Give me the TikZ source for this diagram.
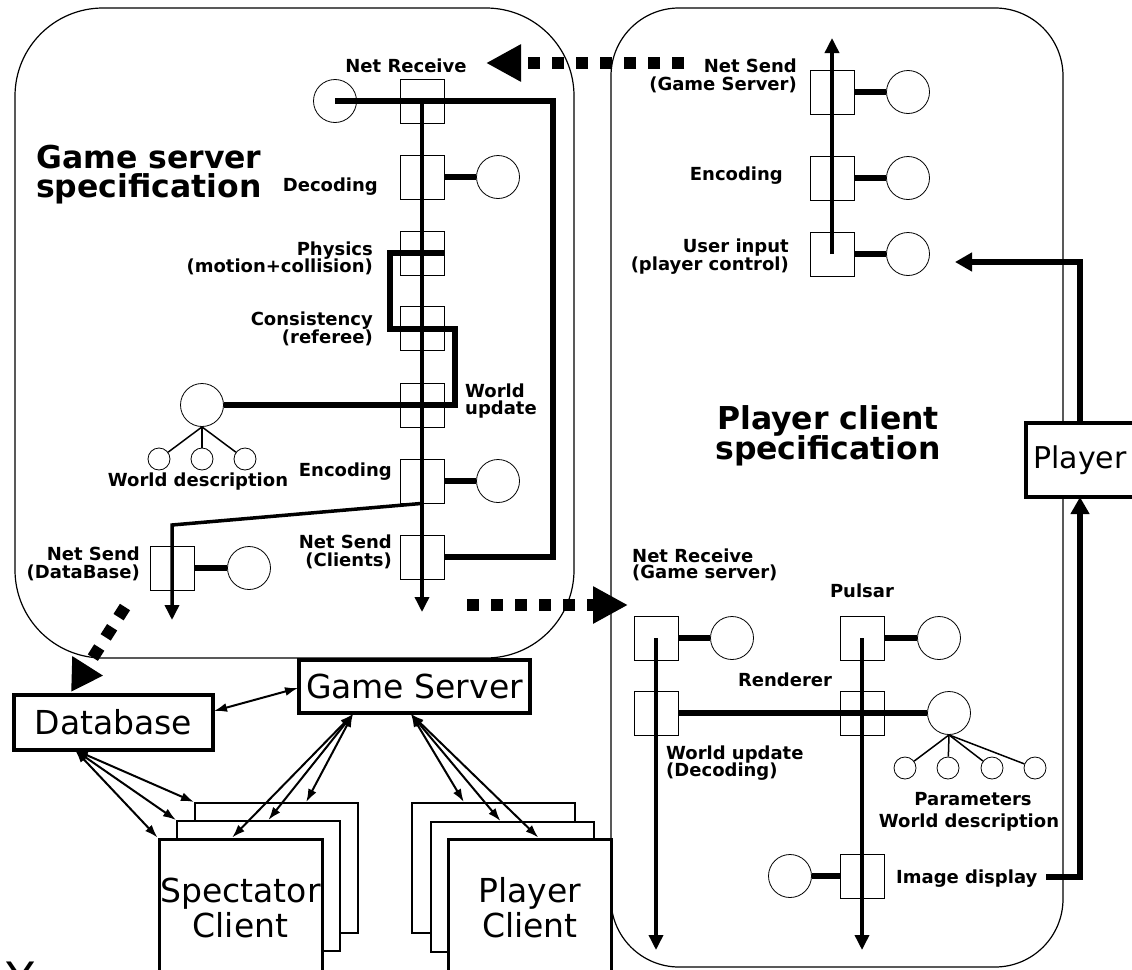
\documentclass[tikz,border=0pt]{standalone}
\usepackage{fontspec}
\setmainfont{DejaVu Sans}
\usetikzlibrary{arrows.meta,calc}

\tikzset{
  sq/.style={draw, line width=0.8pt, minimum width=44pt, minimum height=44pt, inner sep=0pt},
  ci/.style={draw, circle, line width=0.8pt, minimum size=43pt, inner sep=0pt},
  sci/.style={draw, circle, line width=0.8pt, minimum size=22pt, inner sep=0pt},
  link/.style={line width=6.5pt},
  tree/.style={line width=1.5pt},
  flow/.style={line width=3.5pt, -{Triangle[length=15pt,width=14pt]}},
  fat/.style={line width=6.5pt, -{Triangle[length=17pt,width=18pt]}},
  sqdash/.style={line width=12pt, dash pattern=on 12pt off 12pt, -{Triangle[length=35pt,width=35pt]}},
  lab/.style={font=\bfseries\fontsize{18pt}{18pt}\selectfont, inner sep=0pt},
  ttl/.style={font=\bfseries\fontsize{31.5pt}{30pt}\selectfont, inner sep=0pt},
  bx/.style={draw, line width=3.5pt, inner sep=0pt, fill=white, font=\fontsize{33pt}{35pt}\selectfont},
  sheet/.style={draw, line width=2pt, fill=white, minimum width=163pt, minimum height=130pt, inner sep=0pt},
  frontsheet/.style={draw, line width=3pt, fill=white, minimum width=163pt, minimum height=136pt, inner sep=0pt},
  bigtxt/.style={font=\fontsize{33pt}{35pt}\selectfont, inner sep=0pt},
  dbl/.style={line width=2pt, {Latex[length=13pt,width=9pt]}-{Latex[length=13pt,width=9pt]}},
  panel/.style={line width=1.2pt},
}

\begin{document}
\begin{tikzpicture}[x=1pt,y=-1pt]
\useasboundingbox (0,0) rectangle (1132,969);

% ---------------- the two specification panels ----------------
\draw[panel, rounded corners=88pt] (15,8) rectangle (574,658);
\draw[panel, rounded corners=68pt] (611,8) rectangle (1063,967);

% ---------------- game server pipeline ----------------
\node[ttl, anchor=base west] (gsT1) at (36,168) {Game server};
\node[ttl, anchor=base west] (gsT2) at (36,197) {specification};

\node[sq] (nr) at (422,101) {};
\node[ci] (nrc) at (335,101) {};
\node[sq] (dec) at (422,177) {};
\node[ci] (decc) at (498,177) {};
\node[sq] (phy) at (422,253) {};
\node[sq] (con) at (422,328) {};
\node[sq] (wup) at (422,405) {};
\node[sq] (enc) at (422,481) {};
\node[ci] (encc) at (498,481) {};
\node[sq] (nsc) at (422,557) {};
\node[ci] (wdc) at (202,405) {};
\node[sci] (wd1) at (159,459) {};
\node[sci] (wd2) at (202,459) {};
\node[sci] (wd3) at (245,459) {};
\node[sq] (nsd) at (172,568) {};
\node[ci] (nsdc) at (249,568) {};

\node[lab, anchor=base] (lNR) at (406,72) {Net Receive};
\node[lab, anchor=base east] (lDec) at (378,191) {Decoding};
\node[lab, anchor=base east] (lPh1) at (373,255) {Physics};
\node[lab, anchor=base east] (lPh2) at (373,272) {(motion+collision)};
\node[lab, anchor=base east] (lCo1) at (373,325) {Consistency};
\node[lab, anchor=base east] (lCo2) at (373,343) {(referee)};
\node[lab, anchor=base west] (lWu1) at (465,397) {World};
\node[lab, anchor=base west] (lWu2) at (465,414) {update};
\node[lab, anchor=base] (lWd) at (198,486) {World description};
\node[lab, anchor=base east] (lEnc) at (392,476) {Encoding};
\node[lab, anchor=base east] (lNc1) at (392,548) {Net Send};
\node[lab, anchor=base east] (lNc2) at (392,566) {(Clients)};
\node[lab, anchor=base east] (lNd1) at (140,560) {Net Send};
\node[lab, anchor=base east] (lNd2) at (140,578) {(DataBase)};

\draw[link] (dec.east) -- (decc.west);
\draw[link] (enc.east) -- (encc.west);
\draw[link] (nsd.east) -- (nsdc.west);
\draw[tree] (wdc.south) -- (wd1);
\draw[tree] (wdc.south) -- (wd2);
\draw[tree] (wdc.south) -- (wd3);

\coordinate (gsRet) at (553,300);
\draw[link] (nrc.center) -| (gsRet) |- (nsc.east);
\coordinate (pk1) at (390,253);
\coordinate (pk2) at (455,329);
\draw[link] (phy.east) -- (pk1) |- (pk2) |- (wdc.east);

\coordinate (gsOut) at (422,612);
\draw[flow] (nr.center) -- (gsOut);
\coordinate (dbBend) at (172,525);
\coordinate (dbOut) at (172,620);
\draw[flow] (enc.south) -- (dbBend) -- (dbOut);

% ---------------- player client pipeline ----------------
\node[ttl, anchor=base] (pcT1) at (828,429) {Player client};
\node[ttl, anchor=base] (pcT2) at (828,459) {specification};

\node[sq] (nsg) at (832,92) {};
\node[ci] (nsgc) at (908,92) {};
\node[sq] (enc2) at (832,178) {};
\node[ci] (enc2c) at (908,178) {};
\node[sq] (uin) at (832,254) {};
\node[ci] (uinc) at (908,254) {};

\node[lab, anchor=base east] (lNg1) at (797,72) {Net Send};
\node[lab, anchor=base east] (lNg2) at (797,90) {(Game Server)};
\node[lab, anchor=base east] (lEn2) at (783,180) {Encoding};
\node[lab, anchor=base east] (lUi1) at (789,252) {User input};
\node[lab, anchor=base east] (lUi2) at (789,270) {(player control)};

\draw[link] (nsg.east) -- (nsgc.west);
\draw[link] (enc2.east) -- (enc2c.west);
\draw[link] (uin.east) -- (uinc.west);
\coordinate (upOut) at (832,38);
\draw[flow] (uin.center) -- (upOut);

\node[sq] (nrr) at (656,638) {};
\node[ci] (nrrc) at (732,638) {};
\node[sq] (pul) at (862,638) {};
\node[ci] (pulc) at (939,638) {};
\node[sq] (wu2) at (656,713) {};
\node[sq] (ren) at (862,713) {};
\node[ci] (par) at (949,713) {};
\node[sci] (pa1) at (905,768) {};
\node[sci] (pa2) at (948,768) {};
\node[sci] (pa3) at (992,768) {};
\node[sci] (pa4) at (1035,768) {};
\node[sq] (ids) at (862,876) {};
\node[ci] (idc) at (790,876) {};

\node[lab, anchor=base west] (lNr1) at (632,562) {Net Receive};
\node[lab, anchor=base west] (lNr2) at (632,578) {(Game server)};
\node[lab, anchor=base] (lPul) at (862,597) {Pulsar};
\node[lab, anchor=base] (lRen) at (785,686) {Renderer};
\node[lab, anchor=base west] (lWd1) at (666,759) {World update};
\node[lab, anchor=base west] (lWd2) at (666,776) {(Decoding)};
\node[lab, anchor=base] (lPa1) at (973,805) {Parameters};
\node[lab, anchor=base] (lPa2) at (969,827) {World description};
\node[lab, anchor=base west] (lId) at (896,883) {Image display};

\draw[link] (nrr.east) -- (nrrc.west);
\draw[link] (pul.east) -- (pulc.west);
\draw[link] (wu2.east) -- (par.west);
\draw[link] (idc.east) -- (ids.west);
\draw[tree] (par.south) -- (pa1);
\draw[tree] (par.south) -- (pa2);
\draw[tree] (par.south) -- (pa3);
\draw[tree] (par.south) -- (pa4);

\coordinate (nrrOut) at (656,950);
\coordinate (pulOut) at (862,950);
\draw[flow] (nrr.center) -- (nrrOut);
\draw[flow] (pul.center) -- (pulOut);

% ---------------- player ----------------
\node[bx, minimum width=120pt, minimum height=74pt, font=\fontsize{30pt}{32pt}\selectfont] (pl) at (1086,460) {};
\node[font=\fontsize{30pt}{32pt}\selectfont, inner sep=0pt] (plT) at (1080,460) {Player};
\coordinate (plUp) at (1080,423);
\coordinate (plDown) at (1080,497);
\coordinate (uiIn) at (955,262);
\draw[fat] (plUp) |- (uiIn);
\coordinate (idOut) at (1046,877);
\draw[fat] (idOut) -| (plDown);

% ---------------- network messages ----------------
\coordinate (msgA) at (684,63);
\coordinate (msgB) at (486,63);
\draw[sqdash] (msgA) -- (msgB);
\coordinate (msgC) at (467,605);
\coordinate (msgD) at (628,605);
\draw[sqdash] (msgC) -- (msgD);
\coordinate (msgE) at (125,607);
\coordinate (msgF) at (71,692);
\draw[line width=12pt, dash pattern=on 12pt off 12pt, -{Triangle[length=31pt,width=34pt]}] (msgE) -- (msgF);

% ---------------- deployment ----------------
\node[bx, minimum width=199pt, minimum height=55pt] (db) at (113.5,722.5) {Database};
\node[bx, minimum width=231pt, minimum height=53pt] (gs) at (414.5,686.5) {Game Server};

\node[sheet] (sp3) at (276.5,868) {};
\node[sheet] (sp2) at (258.5,886) {};
\node[frontsheet] (sp1) at (240.5,907) {};
\node[bigtxt, anchor=base] (spT1) at (240.5,902) {Spectator};
\node[bigtxt, anchor=base] (spT2) at (240.5,937) {Client};

\node[sheet] (pc3) at (493.5,868) {};
\node[sheet] (pc2) at (512,887) {};
\node[frontsheet] (pc1) at (530,907) {};
\node[bigtxt, anchor=base] (pcB1) at (530,902) {Player};
\node[bigtxt, anchor=base] (pcB2) at (530,937) {Client};

\coordinate (dbR) at (214,711);
\coordinate (gsW) at (298,688);
\draw[dbl] (dbR) -- (gsW);

\coordinate (dbFan) at (75,750);
\draw[dbl] (dbFan) -- (sp3.north west);
\draw[dbl] (dbFan) -- (sp2.north west);
\draw[dbl] (dbFan) -- (sp1.north west);

\coordinate (gsFanL) at (353,714);
\draw[dbl] (gsFanL) -- ($(sp3.north west)!0.68!(sp3.north east)$);
\draw[dbl] (gsFanL) -- ($(sp2.north west)!0.56!(sp2.north east)$);
\draw[dbl] (gsFanL) -- ($(sp1.north west)!0.45!(sp1.north east)$);

\coordinate (gsFanR) at (411,714);
\draw[dbl] (gsFanR) -- ($(pc3.north west)!0.32!(pc3.north east)$);
\draw[dbl] (gsFanR) -- ($(pc2.north west)!0.43!(pc2.north east)$);
\draw[dbl] (gsFanR) -- ($(pc1.north west)!0.55!(pc1.north east)$);

% letter cut by the lower edge
\node[font=\fontsize{46pt}{46pt}\selectfont, anchor=north west, inner sep=0pt] (yfrag) at (6,962) {Y};
\end{tikzpicture}
\end{document}
